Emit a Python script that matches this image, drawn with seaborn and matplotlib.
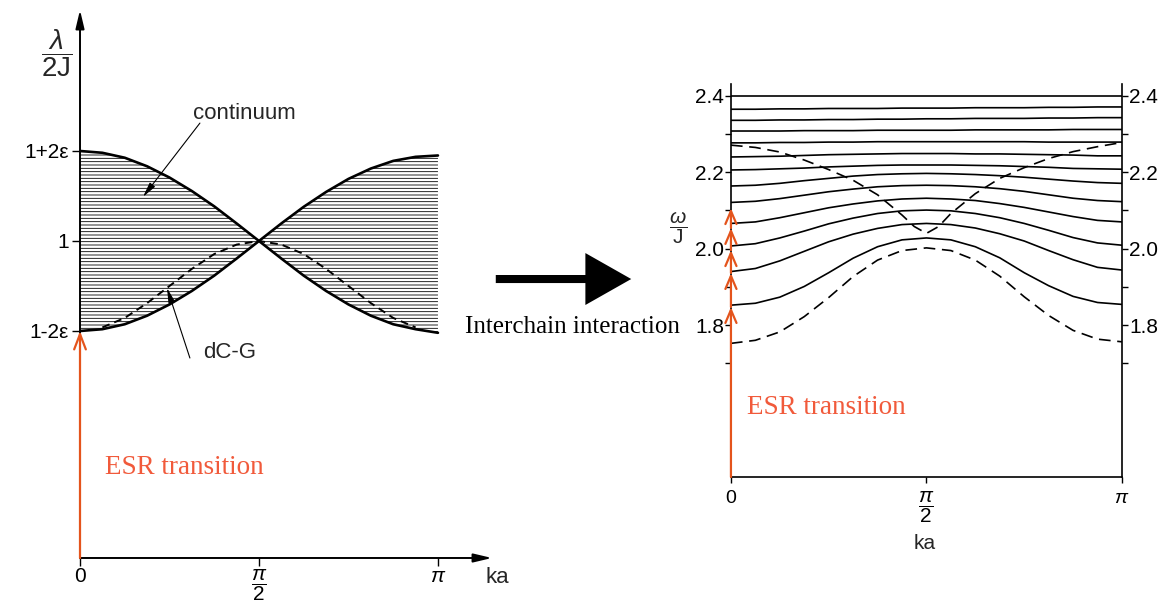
import numpy as np
import pandas as pd
import matplotlib
matplotlib.use("Agg")
import matplotlib.pyplot as plt
from matplotlib.patches import FancyArrowPatch
import seaborn as sns

# ------------------------------------------------------------------ data
# wave vector ka in units of pi
k_grid = [0.0, 0.0625, 0.125, 0.1875, 0.25, 0.3125, 0.375, 0.4375, 0.5,
          0.5625, 0.625, 0.6875, 0.75, 0.8125, 0.875, 0.9375, 1.0]

# left panel : lambda / 2J  (eps = 0.1 so that 1 +/- 2eps = 1.2 / 0.8)
cont_upper = [1.200, 1.196, 1.185, 1.166, 1.141, 1.111, 1.077, 1.039, 1.000,
              1.039, 1.076, 1.109, 1.138, 1.161, 1.178, 1.187, 1.190]
cont_lower = [0.800, 0.804, 0.815, 0.834, 0.859, 0.889, 0.923, 0.961, 1.000,
              0.961, 0.923, 0.889, 0.859, 0.834, 0.815, 0.804, 0.796]
dcg_k = [0.0625, 0.125, 0.1875, 0.25, 0.3125, 0.375, 0.4375, 0.5,
         0.5625, 0.625, 0.6875, 0.75, 0.8125, 0.875, 0.9375]
dcg = [0.808, 0.829, 0.862, 0.900, 0.938, 0.971, 0.992, 1.000,
       0.992, 0.971, 0.938, 0.900, 0.862, 0.829, 0.808]
left_yticks = [0.8, 1.0, 1.2]
left_yticklabels = ["1-2ε", "1", "1+2ε"]
xtick_pos = [0.0, 0.5, 1.0]
xtick_labels = ["0", r"$\dfrac{\pi}{2}$", r"$\pi$"]

# right panel : omega / J
band_01 = [2.400] * 17
band_02 = [2.365, 2.365, 2.366, 2.366, 2.367, 2.367, 2.367, 2.368, 2.368,
           2.368, 2.369, 2.369, 2.369, 2.370, 2.370, 2.371, 2.371]
band_03 = [2.336, 2.336, 2.337, 2.337, 2.338, 2.338, 2.339, 2.339, 2.340,
           2.340, 2.341, 2.341, 2.341, 2.342, 2.342, 2.343, 2.343]
band_04 = [2.308, 2.308, 2.308, 2.309, 2.309, 2.309, 2.310, 2.310, 2.310,
           2.310, 2.311, 2.311, 2.311, 2.311, 2.312, 2.312, 2.312]
band_05 = [2.277, 2.277, 2.278, 2.278, 2.279, 2.279, 2.280, 2.280, 2.280,
           2.280, 2.280, 2.280, 2.280, 2.279, 2.279, 2.279, 2.279]
band_06 = [2.240, 2.241, 2.242, 2.244, 2.246, 2.247, 2.248, 2.249, 2.249,
           2.249, 2.248, 2.248, 2.247, 2.246, 2.245, 2.243, 2.243]
band_07 = [2.206, 2.207, 2.209, 2.211, 2.214, 2.216, 2.218, 2.219, 2.219,
           2.219, 2.218, 2.217, 2.215, 2.213, 2.210, 2.209, 2.208]
band_08 = [2.164, 2.166, 2.171, 2.178, 2.184, 2.190, 2.194, 2.196, 2.197,
           2.196, 2.194, 2.191, 2.187, 2.182, 2.177, 2.173, 2.171]
band_09 = [2.121, 2.124, 2.131, 2.140, 2.149, 2.156, 2.162, 2.165, 2.166,
           2.165, 2.162, 2.157, 2.150, 2.141, 2.132, 2.126, 2.123]
band_10 = [2.066, 2.070, 2.081, 2.094, 2.107, 2.117, 2.125, 2.130, 2.132,
           2.130, 2.126, 2.118, 2.108, 2.096, 2.084, 2.074, 2.070]
band_11 = [2.007, 2.013, 2.028, 2.046, 2.065, 2.080, 2.092, 2.099, 2.101,
           2.099, 2.092, 2.081, 2.066, 2.048, 2.029, 2.015, 2.009]
band_12 = [1.940, 1.948, 1.968, 1.993, 2.018, 2.038, 2.053, 2.063, 2.066,
           2.063, 2.054, 2.039, 2.020, 1.995, 1.971, 1.951, 1.944]
band_13 = [1.852, 1.857, 1.873, 1.901, 1.937, 1.975, 2.005, 2.023, 2.028,
           2.023, 2.005, 1.976, 1.937, 1.903, 1.875, 1.859, 1.854]
bands = [band_01, band_02, band_03, band_04, band_05, band_06, band_07,
         band_08, band_09, band_10, band_11, band_12, band_13]

lower_dashed = [1.752, 1.760, 1.782, 1.822, 1.872, 1.927, 1.970, 1.995, 2.002,
                1.995, 1.970, 1.928, 1.874, 1.825, 1.786, 1.763, 1.756]
upper_dashed_k = [0.0, 0.0625, 0.125, 0.1875, 0.25, 0.3125, 0.375, 0.4375,
                  0.46875, 0.5, 0.53125, 0.5625, 0.625, 0.6875, 0.75, 0.8125,
                  0.875, 0.9375, 1.0]
upper_dashed = [2.271, 2.265, 2.253, 2.232, 2.207, 2.179, 2.141, 2.088,
                2.058, 2.040, 2.058, 2.092, 2.144, 2.184, 2.212, 2.236,
                2.254, 2.267, 2.278]
esr_levels = [1.847, 1.936, 1.996, 2.054, 2.106]
right_major = [1.8, 2.0, 2.2, 2.4]
right_minor = [1.7, 1.9, 2.1, 2.3]

# ------------------------------------------------------------------ style
sns.set_theme(style="white")
plt.rcParams["font.family"] = ["Liberation Sans", "DejaVu Sans"]
plt.rcParams["mathtext.fontset"] = "custom"
plt.rcParams["mathtext.rm"] = "Liberation Sans"
plt.rcParams["mathtext.it"] = "Liberation Sans:italic"
plt.rcParams["mathtext.bf"] = "Liberation Sans:bold"
plt.rcParams["hatch.linewidth"] = 0.6
plt.rcParams["xtick.color"] = "black"
plt.rcParams["ytick.color"] = "black"
plt.rcParams["lines.solid_joinstyle"] = "round"
plt.rcParams["lines.solid_capstyle"] = "round"

RED_LINE = "#E4541C"
RED_TEXT = "#F15A3B"
SERIF = ["Liberation Serif", "DejaVu Serif"]

fig = plt.figure(figsize=(11.63, 6.02), dpi=100)
fig.patch.set_facecolor("white")

# ------------------------------------------------------------------ left panel
axL = fig.add_axes([0.06879, 0.0731, 0.35426, 0.9103])
axL.set_facecolor("none")
axL.set_xlim(0, 1.151)
axL.set_ylim(0.2956, 1.5133)
for s in axL.spines.values():
    s.set_visible(False)

axL.fill_between(k_grid, cont_lower, cont_upper, facecolor="none",
                 edgecolor="black", hatch="-----", linewidth=0)
sns.lineplot(x=k_grid, y=cont_upper, ax=axL, color="black", linewidth=1.9,
             estimator=None, sort=False)
sns.lineplot(x=k_grid, y=cont_lower, ax=axL, color="black", linewidth=1.9,
             estimator=None, sort=False)
sns.lineplot(x=dcg_k, y=dcg, ax=axL, color="black", linewidth=1.4,
             linestyle=(0, (4, 2.6)), estimator=None, sort=False)

# axes drawn as arrows
ax_arrow = dict(arrowstyle="-|>,head_length=1.1,head_width=0.26",
                lw=1.4, color="black", shrinkA=0, shrinkB=0, mutation_scale=10)
axL.annotate("", xy=(0, 1), xytext=(0, 0), xycoords="axes fraction",
             arrowprops=ax_arrow, annotation_clip=False)
axL.annotate("", xy=(1, 0), xytext=(0, 0), xycoords="axes fraction",
             arrowprops=ax_arrow, annotation_clip=False)

axL.set_yticks(left_yticks)
axL.set_yticklabels(left_yticklabels)
axL.set_xticks(xtick_pos)
axL.set_xticklabels(xtick_labels)
axL.tick_params(axis="y", left=True, direction="out", length=6, width=1,
                pad=2, labelsize=15)
axL.tick_params(axis="x", bottom=True, direction="out", length=6, width=1,
                pad=0.5, labelsize=15)
axL.get_xticklabels()[1].set_fontsize(15)

axL.set_ylabel(r"$\dfrac{\lambda}{\mathrm{2J}}$", rotation=0, fontsize=20)
axL.yaxis.set_label_coords(-0.0558, 0.9215)
axL.yaxis.label.set_va("center")
axL.yaxis.label.set_ha("center")
axL.set_xlabel("ka", fontsize=16)
axL.xaxis.set_label_coords(1.012, -0.0365)
axL.xaxis.label.set_va("center")

axL.text(0.458, 1.284, "continuum", fontsize=16, ha="center", va="center")
axL.annotate("", xy=(0.176, 1.098), xytext=(0.335, 1.262),
             arrowprops=dict(arrowstyle="-|>,head_length=0.9,head_width=0.2",
                             lw=0.8, color="black", shrinkA=0, shrinkB=0,
                             mutation_scale=10))
axL.text(0.4176, 0.7533, "dC-G", fontsize=16, ha="center", va="center")
axL.annotate("", xy=(0.243, 0.8956), xytext=(0.307, 0.74),
             arrowprops=dict(arrowstyle="-|>,head_length=0.9,head_width=0.2",
                             lw=0.8, color="black", shrinkA=0, shrinkB=0,
                             mutation_scale=10))

axL.annotate("", xy=(0, left_yticks[0]), xytext=(0, 0.2956),
             arrowprops=dict(arrowstyle="->,head_length=1.1,head_width=0.42",
                             lw=1.6, color=RED_LINE, shrinkA=0, shrinkB=0,
                             mutation_scale=10),
             annotation_clip=False, zorder=5)
axL.text(0.07, 0.496, "ESR transition", color=RED_TEXT, fontsize=19.5,
         family=SERIF, ha="left", va="center")

# ------------------------------------------------------------------ middle arrow
fig.add_artist(FancyArrowPatch((493 / 1163, 0.5365), (634 / 1163, 0.5365),
                               transform=fig.transFigure,
                               arrowstyle="simple,head_length=3.3,head_width=3.74,tail_width=0.58",
                               mutation_scale=10, color="black", lw=0))
fig.text(0.492, 0.457, "Interchain interaction", fontsize=18, family=SERIF,
         ha="center", va="center", color="black")

# ------------------------------------------------------------------ right panel
axR = fig.add_axes([0.6285, 0.2076, 0.3362, 0.6528])
axR.set_facecolor("none")
axR.set_xlim(0, 1)
axR.set_ylim(1.402, 2.431)
axR.spines["top"].set_visible(False)
for side in ["left", "right", "bottom"]:
    axR.spines[side].set_color("black")
    axR.spines[side].set_linewidth(1.2)

for band in bands:
    sns.lineplot(x=k_grid, y=band, ax=axR, color="black", linewidth=1.2,
                 estimator=None, sort=False)
sns.lineplot(x=k_grid, y=lower_dashed, ax=axR, color="black", linewidth=1.2,
             linestyle=(0, (7, 4)), estimator=None, sort=False)
sns.lineplot(x=upper_dashed_k, y=upper_dashed, ax=axR, color="black",
             linewidth=1.2, linestyle=(0, (7, 4)), estimator=None, sort=False)

axR.set_yticks(right_major)
axR.set_yticks(right_minor, minor=True)
axR.set_yticklabels([f"{v:.1f}" for v in right_major])
axR.tick_params(axis="y", which="both", left=True, right=True,
                labelleft=True, labelright=True, direction="out", width=1)
axR.tick_params(axis="y", which="major", length=4, pad=1, labelsize=15)
axR.tick_params(axis="y", which="minor", length=4)
axR.set_xticks(xtick_pos)
axR.set_xticklabels(xtick_labels)
axR.tick_params(axis="x", bottom=True, direction="out", length=4, width=1,
                pad=5, labelsize=14)
axR.get_xticklabels()[1].set_fontsize(15)

axR.set_ylabel(r"$\dfrac{\omega}{\mathrm{J}}$", rotation=0, fontsize=15)
axR.yaxis.set_label_coords(-0.135, 0.6336)
axR.yaxis.label.set_va("center")
axR.yaxis.label.set_ha("center")
axR.set_xlabel("ka", fontsize=15)
axR.xaxis.set_label_coords(0.496, -0.168)
axR.xaxis.label.set_va("center")

prev = 1.402
for lev in esr_levels:
    axR.annotate("", xy=(0, lev), xytext=(0, prev),
                 arrowprops=dict(arrowstyle="->,head_length=0.94,head_width=0.4",
                                 lw=1.6, color=RED_LINE, shrinkA=0, shrinkB=0,
                                 mutation_scale=10),
                 annotation_clip=False, zorder=5)
    prev = lev
axR.text(0.041, 1.585, "ESR transition", color=RED_TEXT, fontsize=19.5,
         family=SERIF, ha="left", va="center")

fig.savefig("out.png", dpi=100, facecolor="white")
